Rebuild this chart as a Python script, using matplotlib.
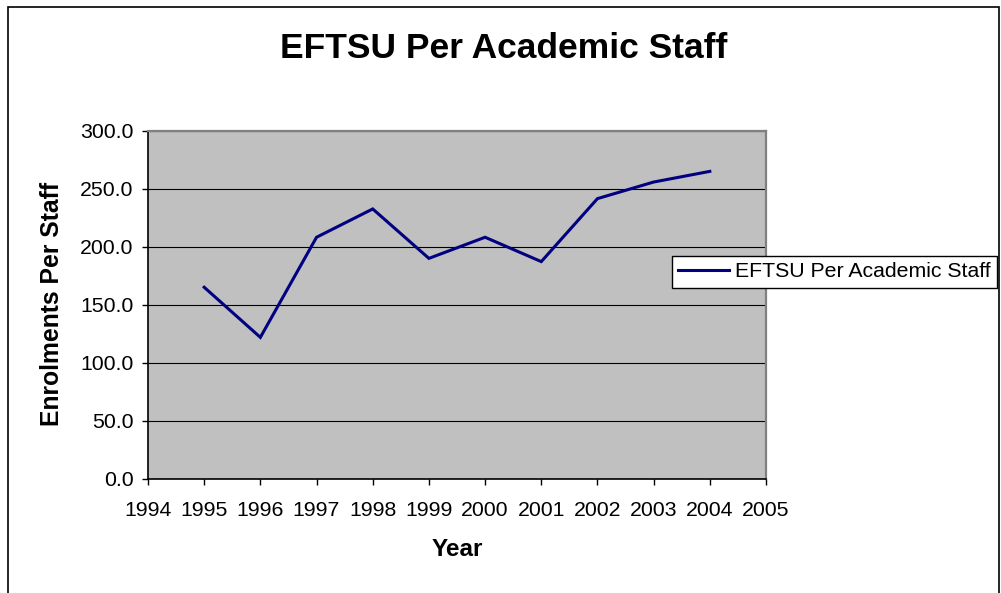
import matplotlib
matplotlib.use("Agg")
import matplotlib.pyplot as plt
from matplotlib.patches import Rectangle

plt.rcParams['font.family'] = ['Liberation Sans', 'DejaVu Sans']

# datos
years = [1995, 1996, 1997, 1998, 1999, 2000, 2001, 2002, 2003, 2004]
eftsu_per_staff = [165.3, 122.1, 208.4, 232.8, 190.2, 208.4, 187.4, 241.7, 256.0, 265.2]
x_ticks = list(range(1994, 2006))
y_ticks = [0, 50, 100, 150, 200, 250, 300]

W, H = 1001, 593
fig = plt.figure(figsize=(W / 100, H / 100), dpi=100)
ax = fig.add_axes([148 / W, 1 - 479 / H, (766 - 148) / W, (479 - 131) / H])

ax.set_facecolor('#c0c0c0')
ax.plot(years, eftsu_per_staff, color='#000080', linewidth=2.2,
        label='EFTSU Per Academic Staff', solid_joinstyle='miter')

ax.set_xlim(1994, 2005)
ax.set_ylim(0, 300)
ax.set_xticks(x_ticks)
ax.set_yticks(y_ticks)
ax.set_yticklabels([f'{v:.1f}' for v in y_ticks])
ax.tick_params(direction='out', length=4.5, width=1, labelsize=15.3, color='black')
ax.tick_params(axis='y', pad=6)
ax.tick_params(axis='x', pad=11)

# lineas horizontales de la cuadricula
ax.yaxis.grid(True, color='black', linewidth=0.8)
ax.set_axisbelow(True)

for s in ['top', 'right']:
    ax.spines[s].set_color('#808080')
    ax.spines[s].set_linewidth(1.6)
for s in ['left', 'bottom']:
    ax.spines[s].set_color('black')
    ax.spines[s].set_linewidth(1.2)

fig.text(504 / W, 1 - 48 / H, 'EFTSU Per Academic Staff', fontsize=25.5,
         fontweight='bold', ha='center', va='center')
fig.text(457 / W, 1 - 550 / H, 'Year', fontsize=17.5, fontweight='bold',
         ha='center', va='center')
fig.text(52 / W, 1 - 304 / H, 'Enrolments Per Staff', fontsize=17.8,
         fontweight='bold', ha='center', va='center', rotation=90)

leg = ax.legend(loc='upper left', bbox_to_anchor=(672 / W, 1 - 256 / H),
                bbox_transform=fig.transFigure, fontsize=15.3, frameon=True,
                fancybox=False, edgecolor='black', framealpha=1,
                borderaxespad=0, borderpad=0.3, handlelength=2.4,
                handletextpad=0.25)
leg.get_frame().set_linewidth(1.0)

# borde exterior del area del grafico
fig.add_artist(Rectangle((8 / W, -0.1), (999 - 8) / W, (593 - 7) / H + 0.1,
                         transform=fig.transFigure, fill=False,
                         edgecolor='black', linewidth=1.2, clip_on=False))

fig.savefig('out.png', dpi=100)
